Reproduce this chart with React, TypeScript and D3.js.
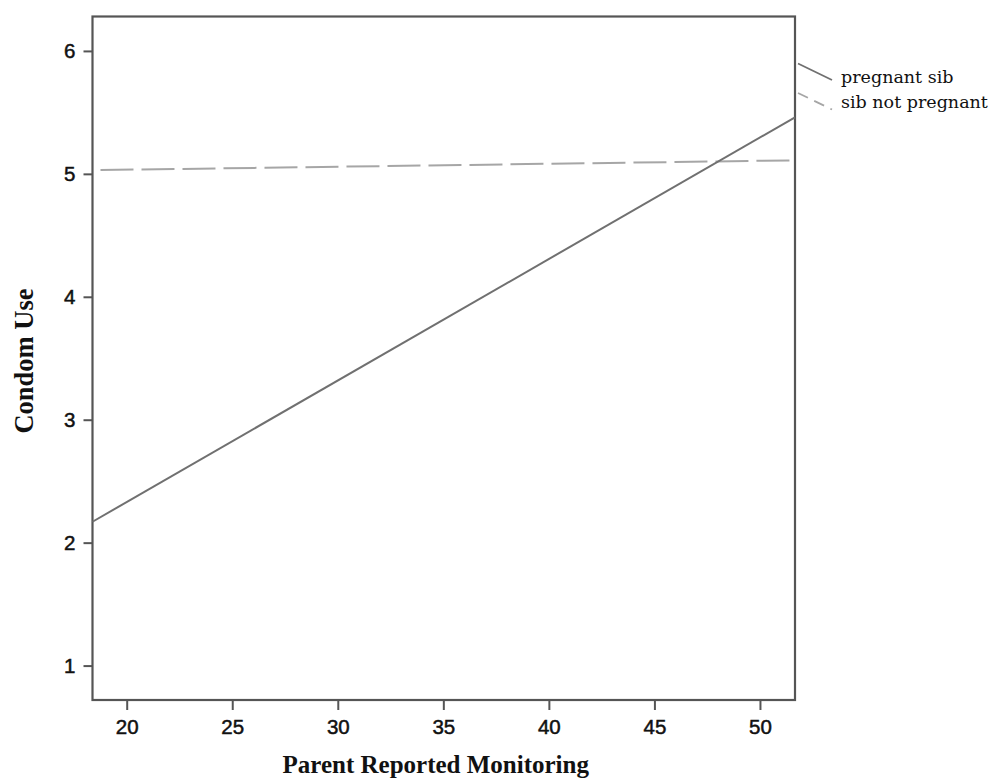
import React, { useRef, useEffect } from 'react';
import * as d3 from 'd3';

// x range of the fitted lines (parent reported monitoring)
const monitoring = [18.38, 51.66];
// predicted condom use at each end
const pregnantSib = [2.17, 5.46];
const sibNotPregnant = [5.03, 5.11];

const xTicks = [20, 25, 30, 35, 40, 45, 50];
const yTicks = [1, 2, 3, 4, 5, 6];
const legendLabels = ['pregnant sib', 'sib not pregnant'];

export default function App() {
  const ref = useRef<SVGSVGElement>(null);

  useEffect(() => {
    const svg = d3.select(ref.current);
    svg.selectAll('*').remove();

    const left = 92.5, right = 795, top = 16.5, bottom = 700;
    const x = d3.scaleLinear().domain([18.38, 51.66]).range([left, right]);
    const y = d3.scaleLinear().domain([0.72, 6.28]).range([bottom, top]);
    const frame = '#555';

    // axes
    const xAxis = svg.append('g')
      .attr('transform', `translate(0,${bottom})`)
      .call(d3.axisBottom(x).tickValues(xTicks).tickSize(10).tickPadding(9).tickFormat(d3.format('d')));
    const yAxis = svg.append('g')
      .attr('transform', `translate(${left},0)`)
      .call(d3.axisLeft(y).tickValues(yTicks).tickSize(9).tickPadding(8).tickFormat(d3.format('d')));
    [xAxis, yAxis].forEach(a => {
      a.select('.domain').remove();
      a.selectAll('line').attr('stroke', frame).attr('stroke-width', 2);
      a.selectAll('text')
        .attr('font-family', '"Liberation Sans", Arial, sans-serif')
        .attr('font-size', 20.5)
        .attr('fill', '#111')
        .attr('stroke', '#111')
        .attr('stroke-width', 0.5);
    });

    // frame
    svg.append('rect')
      .attr('x', left).attr('y', top)
      .attr('width', right - left).attr('height', bottom - top)
      .attr('fill', 'none').attr('stroke', frame).attr('stroke-width', 2.2);

    const line = d3.line<number>()
      .x((_, i) => x(monitoring[i]))
      .y(d => y(d));

    svg.append('path')
      .attr('d', line(sibNotPregnant))
      .attr('fill', 'none')
      .attr('stroke', '#a6a6a6')
      .attr('stroke-width', 2)
      .attr('stroke-dasharray', '33 8')
      .attr('stroke-dashoffset', 33);

    svg.append('path')
      .attr('d', line(pregnantSib))
      .attr('fill', 'none')
      .attr('stroke', '#707070')
      .attr('stroke-width', 2);

    // line labels
    const lg = svg.append('g');
    legendLabels.forEach((label, i) => {
      const y0 = 63.5 + i * 29.5;
      lg.append('line')
        .attr('x1', 798).attr('y1', y0)
        .attr('x2', 832).attr('y2', y0 + 16.5)
        .attr('stroke', i === 0 ? '#707070' : '#a6a6a6')
        .attr('stroke-width', 1.8)
        .attr('stroke-dasharray', i === 0 ? null : '11 7');
      lg.append('text')
        .attr('x', 841)
        .attr('y', 83 + i * 24.5)
        .attr('font-family', '"DejaVu Serif", serif')
        .attr('font-size', 17.5)
        .attr('fill', '#111')
        .text(label);
    });

    // axis titles
    svg.append('text')
      .attr('x', (left + right) / 2 - 8)
      .attr('y', 773)
      .attr('text-anchor', 'middle')
      .attr('font-family', '"Liberation Serif", "Times New Roman", serif')
      .attr('font-weight', 'bold')
      .attr('font-size', 25)
      .attr('fill', '#111')
      .text('Parent Reported Monitoring');

    svg.append('text')
      .attr('transform', `translate(33,361) rotate(-90)`)
      .attr('text-anchor', 'middle')
      .attr('font-family', '"Liberation Serif", "Times New Roman", serif')
      .attr('font-weight', 'bold')
      .attr('font-size', 26.5)
      .attr('fill', '#111')
      .text('Condom Use');
  }, []);

  return (
    <svg
      ref={ref}
      width={991}
      height={781}
      style={{ position: 'absolute', left: 0, top: 0, background: '#fff' }}
    />
  );
}
